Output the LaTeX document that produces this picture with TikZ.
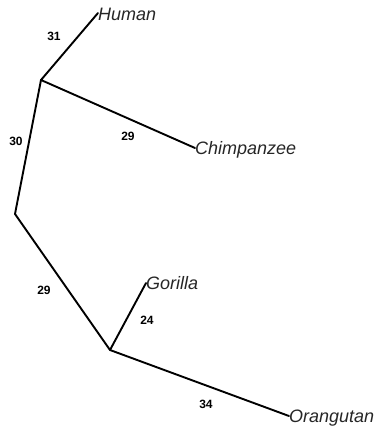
\documentclass[tikz,border=0pt]{standalone}
\usepackage{fontspec}
\setmainfont{Liberation Sans}
\begin{document}
\begin{tikzpicture}[x=1pt,y=-1pt,
  edge/.style={line width=1.9pt,line cap=round,line join=round},
  leaf/.style={anchor=base west,inner sep=0pt,font=\fontsize{18}{18}\selectfont\itshape,text=black!85},
  blen/.style={inner sep=0pt,font=\fontsize{12}{12}\selectfont\bfseries}]
\useasboundingbox (0,0) rectangle (379,426);
% internal nodes and tips
\coordinate (A) at (41,80);
\coordinate (R) at (15,214);
\coordinate (B) at (110,350);
\coordinate (hT) at (98,13);
\coordinate (cT) at (195,148);
\coordinate (gT) at (146,283);
\coordinate (oT) at (289,416);
% edges
\draw[edge] (hT) -- (A) -- (cT);
\draw[edge] (A) -- (R) -- (B);
\draw[edge] (gT) -- (B) -- (oT);
% leaf labels
\node[leaf] (human) at (98,20.5) {Human};
\node[leaf] (chimp) at (195,154.5) {Chimpanzee};
\node[leaf] (gorilla) at (146,289.5) {Gorilla};
\node[leaf] (orang) at (289,422.5) {Orangutan};
% branch lengths
\node[blen] (l1) at (54,36) {31};
\node[blen] (l2) at (16,141) {30};
\node[blen] (l3) at (128,136) {29};
\node[blen] (l4) at (44,290) {29};
\node[blen] (l5) at (147,320) {24};
\node[blen] (l6) at (206,404) {34};
\end{tikzpicture}
\end{document}
